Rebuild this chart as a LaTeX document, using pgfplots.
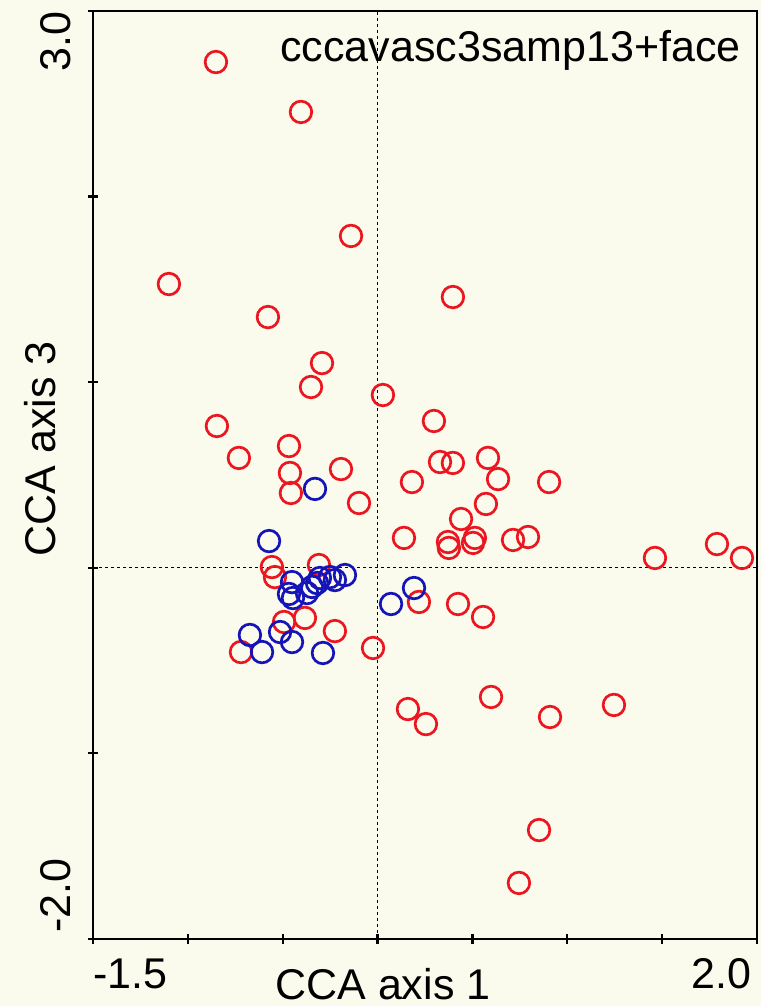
\documentclass[border=0pt]{standalone}
\usepackage{pgfplots}
\pgfplotsset{compat=1.18}
\usepackage{fontspec}
\setmainfont{Liberation Sans}
\definecolor{cream}{RGB}{250,250,237}
\definecolor{cred}{RGB}{236,22,32}
\definecolor{cblue}{RGB}{20,20,185}
\begin{document}
\begin{tikzpicture}
\useasboundingbox (0,0) rectangle (380.5pt,503pt);
\fill[cream] (0,0) rectangle (380.5pt,503pt);
\begin{axis}[
  at={(46.5pt,33.5pt)}, anchor=south west,
  width=332pt, height=464pt, scale only axis,
  xmin=-1.5, xmax=2, ymin=-2, ymax=3,
  xtick={-1.5,-1,-0.5,0,0.5,1,1.5,2},
  ytick={-2,-1,0,1,2,3},
  xticklabels={}, yticklabels={},
  tick pos=left,
  tick align=center, major tick length=5pt,
  tick style={black, line width=1.1pt},
  axis line style={line width=1.3pt},
  axis background/.style={fill=cream},
  clip=false,
]
\addplot[black, line width=0.55pt, dash pattern=on 1.5pt off 1.5pt] coordinates {(0,-2) (0,3)};
\addplot[black, line width=0.55pt, dash pattern=on 1.5pt off 1.5pt] coordinates {(-1.5,0) (2,0)};
\addplot[only marks, mark=o, mark size=5.4pt, mark options={cred, line width=1.35pt}] table {
x y
-0.852 2.725
-0.404 2.456
-0.140 1.788
-1.100 1.529
-0.578 1.351
0.397 1.459
-0.293 1.103
-0.351 0.974
0.028 0.931
-0.847 0.764
-0.467 0.656
-0.731 0.592
-0.193 0.532
-0.462 0.511
-0.457 0.403
-0.098 0.349
-0.557 0.004
-0.541 -0.050
-0.309 0.015
-0.493 -0.292
-0.383 -0.270
-0.225 -0.341
-0.720 -0.454
-0.024 -0.432
0.297 0.791
0.329 0.570
0.397 0.565
0.582 0.592
0.181 0.462
0.635 0.478
0.904 0.462
0.571 0.344
0.440 0.263
0.139 0.161
0.371 0.139
0.376 0.107
0.513 0.161
0.503 0.134
0.714 0.150
0.793 0.166
1.462 0.053
1.789 0.128
1.921 0.053
0.218 -0.184
0.424 -0.195
0.556 -0.265
0.160 -0.761
0.255 -0.842
0.598 -0.696
0.909 -0.804
1.246 -0.739
0.851 -1.413
0.745 -1.698
};
\addplot[only marks, mark=o, mark size=5.4pt, mark options={cblue, line width=1.35pt}] table {
x y
-0.330 0.425
-0.572 0.144
-0.451 -0.077
-0.467 -0.141
-0.446 -0.163
-0.372 -0.136
-0.346 -0.103
-0.319 -0.082
-0.304 -0.055
-0.225 -0.066
-0.172 -0.039
-0.251 -0.050
-0.673 -0.362
-0.514 -0.346
-0.451 -0.400
-0.609 -0.454
-0.288 -0.459
0.192 -0.109
0.071 -0.195
};
\end{axis}
\fontsize{21.5}{24}\selectfont
\node[anchor=base west, inner sep=0pt] at (140pt,472pt) {cccavasc3samp13+face};
\node[anchor=base west, inner sep=0pt] at (137.5pt,3pt) {CCA axis 1};
\node[anchor=base west, inner sep=0pt, rotate=90] at (27.5pt,224.5pt) {CCA axis 3};
\node[anchor=base west, inner sep=0pt] at (46.5pt,9pt) {-1.5};
\node[anchor=base east, inner sep=0pt] at (376pt,9pt) {2.0};
\node[anchor=base west, inner sep=0pt, rotate=90] at (35pt,467pt) {3.0};
\node[anchor=base west, inner sep=0pt, rotate=90] at (35pt,36.5pt) {-2.0};
\end{tikzpicture}
\end{document}
